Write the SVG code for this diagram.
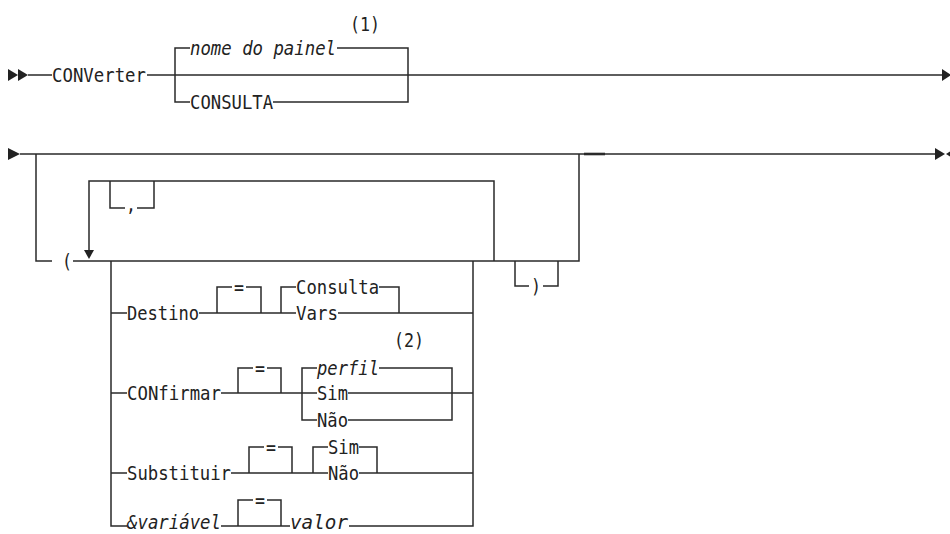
<svg xmlns="http://www.w3.org/2000/svg" width="950" height="534" viewBox="0 0 950 534">
<style>
.t{font-family:"DejaVu Sans Mono","Liberation Mono",monospace;font-size:20px;fill:#222;}
.i{font-style:italic;}
.c{fill:none;stroke:#2a2a2a;stroke-width:1.5;}
.m{fill:#222;}
</style>
<rect width="950" height="534" fill="#fff"/>
<g id="connectors" class="c">
<path d="M28 75H52M147 75H942"/>
<path d="M190 48H175V102H190M337 48H408V102H273"/>
<path d="M20 154H935M36 154V261H52M73 261H579V154"/>
<path d="M584 154H605" style="stroke-width:2.6"/>
<path d="M89 252V181H494V261"/>
<path d="M110 181V208H125M137 208H154V181"/>
<path d="M515 261V286H529M543 286H558V261"/>
<path d="M111 261V526H127M473 261V526H349"/>
<path d="M111 313H127M199 313H296M338 313H473"/>
<path d="M217 313V287H232M246 287H261V313"/>
<path d="M281 313V287H296M379 287H399V313"/>
<path d="M111 393H127M221 393H317M348 393H473"/>
<path d="M238 393V368H253M267 368H281V393"/>
<path d="M317 368H302V420H317M379 368H452V420H348"/>
<path d="M111 473H127M231 473H328M359 473H473"/>
<path d="M249 473V447H264M278 447H292V473"/>
<path d="M328 447H313V473M359 447H377V473"/>
<path d="M221 526H290M238 526V500H253M267 500H281V526"/>
</g>
<g id="start1"><polygon class="m" points="8,69 18,75 8,81"/><polygon class="m" points="18,69 28,75 18,81"/></g>
<g id="converter"><text class="t" x="52" y="82" textLength="94" lengthAdjust="spacingAndGlyphs">CONVerter</text></g>
<g id="nome"><text class="t i" x="190" y="55" textLength="146" lengthAdjust="spacingAndGlyphs">nome do painel</text></g>
<g id="note1"><text class="t" x="350" y="31" textLength="30" lengthAdjust="spacingAndGlyphs">(1)</text></g>
<g id="consulta1"><text class="t" x="190" y="109" textLength="83" lengthAdjust="spacingAndGlyphs">CONSULTA</text></g>
<g id="end1"><polygon class="m" points="942,69 951,75 942,81"/></g>
<g id="start2"><polygon class="m" points="8,148 20,154 8,160"/></g>
<g id="lparen"><text class="t" x="62" y="268" textLength="10" lengthAdjust="spacingAndGlyphs">(</text></g>
<g id="loop-arrow"><polygon class="m" points="84,250 94,250 89,259"/></g>
<g id="comma"><text class="t" x="126" y="211" textLength="10" lengthAdjust="spacingAndGlyphs">,</text></g>
<g id="rparen"><text class="t" x="531" y="293" textLength="10" lengthAdjust="spacingAndGlyphs">)</text></g>
<g id="end2"><polygon class="m" points="935,148 945,154 935,160"/><polygon class="m" points="954,149 946,154 954,159"/></g>
<g id="destino"><text class="t" x="127" y="320" textLength="72" lengthAdjust="spacingAndGlyphs">Destino</text></g>
<g id="eq1"><text class="t" x="234" y="294" textLength="10" lengthAdjust="spacingAndGlyphs">=</text></g>
<g id="consulta2"><text class="t" x="296" y="294" textLength="83" lengthAdjust="spacingAndGlyphs">Consulta</text></g>
<g id="vars"><text class="t" x="296" y="320" textLength="42" lengthAdjust="spacingAndGlyphs">Vars</text></g>
<g id="confirmar"><text class="t" x="127" y="400" textLength="94" lengthAdjust="spacingAndGlyphs">CONfirmar</text></g>
<g id="eq2"><text class="t" x="255" y="375" textLength="10" lengthAdjust="spacingAndGlyphs">=</text></g>
<g id="note2"><text class="t" x="394" y="347" textLength="30" lengthAdjust="spacingAndGlyphs">(2)</text></g>
<g id="perfil"><text class="t i" x="317" y="375" textLength="62" lengthAdjust="spacingAndGlyphs">perfil</text></g>
<g id="sim1"><text class="t" x="317" y="400" textLength="31" lengthAdjust="spacingAndGlyphs">Sim</text></g>
<g id="nao1"><text class="t" x="317" y="427" textLength="31" lengthAdjust="spacingAndGlyphs">Não</text></g>
<g id="substituir"><text class="t" x="127" y="480" textLength="104" lengthAdjust="spacingAndGlyphs">Substituir</text></g>
<g id="eq3"><text class="t" x="266" y="454" textLength="10" lengthAdjust="spacingAndGlyphs">=</text></g>
<g id="sim2"><text class="t" x="328" y="454" textLength="31" lengthAdjust="spacingAndGlyphs">Sim</text></g>
<g id="nao2"><text class="t" x="328" y="480" textLength="31" lengthAdjust="spacingAndGlyphs">Não</text></g>
<g id="variavel"><text class="t i" x="127" y="529" textLength="94" lengthAdjust="spacingAndGlyphs">&amp;variável</text></g>
<g id="eq4"><text class="t" x="255" y="507" textLength="10" lengthAdjust="spacingAndGlyphs">=</text></g>
<g id="valor"><text class="t i" x="290" y="529" textLength="58" lengthAdjust="spacingAndGlyphs">valor</text></g>
</svg>
